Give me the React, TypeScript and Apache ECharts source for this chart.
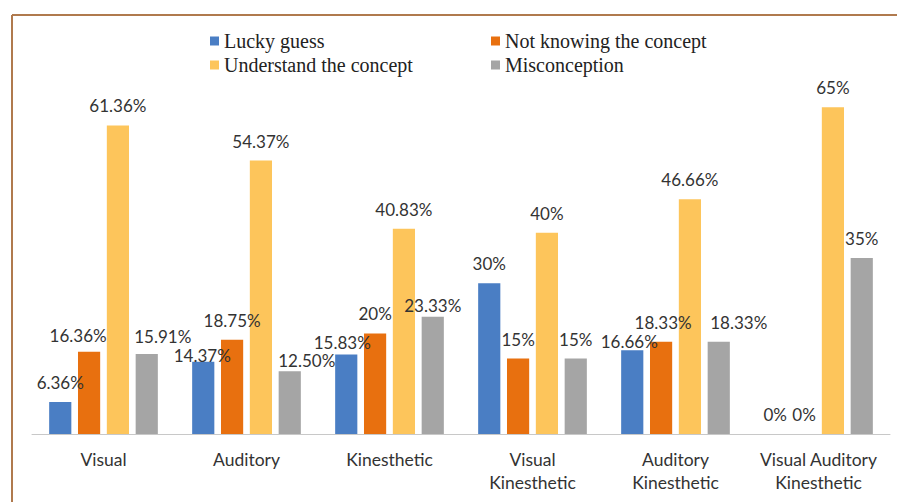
import React, { useEffect, useRef } from "react";
import * as echarts from "echarts";

const categories = ["Visual", "Auditory", "Kinesthetic", "Visual\nKinesthetic", "Auditory\nKinesthetic", "Visual Auditory\nKinesthetic"];
const seriesNames = ["Lucky guess", "Not knowing the concept", "Understand the concept", "Misconception"];
const luckyGuess = [6.36, 14.37, 15.83, 30, 16.66, 0];
const notKnowing = [16.36, 18.75, 20, 15, 18.33, 0];
const understand = [61.36, 54.37, 40.83, 40, 46.66, 65];
const misconception = [15.91, 12.5, 23.33, 15, 18.33, 35];
const luckyLabels = ["6.36%", "14.37%", "15.83%", "30%", "16.66%", "0%"];
const notKnowingLabels = ["16.36%", "18.75%", "20%", "15%", "18.33%", "0%"];
const understandLabels = ["61.36%", "54.37%", "40.83%", "40%", "46.66%", "65%"];
const misconceptionLabels = ["15.91%", "12.50%", "23.33%", "15%", "18.33%", "35%"];

const colors = ["#4a7ec4", "#e8700f", "#fdc55b", "#a5a5a5"];

export default function App() {
  const ref = useRef<HTMLDivElement>(null);
  useEffect(() => {
    if (!ref.current) return;
    const chart = echarts.init(ref.current, null, { renderer: "svg" });
    const values = [luckyGuess, notKnowing, understand, misconception];
    const labels = [luckyLabels, notKnowingLabels, understandLabels, misconceptionLabels];
    // label nudges (x, y) to mimic the reference's label placement
    const offsets: number[][][] = [
      [[0, 0], [-1, 13], [-4, 8], [0, 0], [-3, 11], [0, 0]],
      [[-11, 3], [0, 0], [0, 0], [0, 0], [2, 0], [0, 0]],
      [[0, 0], [0, 0], [0, 0], [0, 0], [0, 0], [0, 0]],
      [[16, 2], [17, 9], [0, 8], [0, 0], [20, 0], [0, 0]],
    ];
    const legendText = { fontFamily: "Liberation Serif", fontSize: 20, color: "#222" };
    chart.setOption({
      animation: false,
      backgroundColor: "#ffffff",
      color: colors,
      legend: [
        {
          left: 205,
          top: 26,
          orient: "vertical",
          itemWidth: 9,
          itemHeight: 9,
          itemGap: 4,
          icon: "rect",
          data: [seriesNames[0], seriesNames[2]],
          textStyle: legendText,
        },
        {
          left: 486,
          top: 26,
          orient: "vertical",
          itemWidth: 9,
          itemHeight: 9,
          itemGap: 4,
          icon: "rect",
          data: [seriesNames[1], seriesNames[3]],
          textStyle: legendText,
        },
      ],
      grid: { left: 32, right: 7, top: 82, bottom: 68, containLabel: false },
      xAxis: {
        type: "category",
        data: categories,
        axisLine: { lineStyle: { color: "#c8c8c8", width: 1 } },
        axisTick: { show: false },
        axisLabel: { fontFamily: "Lato", fontSize: 17.5, color: "#333", margin: 14, lineHeight: 23, interval: 0 },
      },
      yAxis: {
        type: "value",
        min: 0,
        max: 70,
        show: false,
        splitLine: { show: false },
      },
      series: seriesNames.map((name, si) => ({
        name,
        type: "bar",
        barGap: "30%",
        barCategoryGap: "24%",
        data: values[si].map((v, i) => ({
          value: v,
          label: { offset: offsets[si][i] },
        })),
        label: {
          show: true,
          position: "top",
          distance: 11,
          fontFamily: "Lato",
          fontSize: 17,
          color: "#333",
          formatter: (p: any) => labels[si][p.dataIndex],
        },
      })),
      graphic: [
        { type: "line", shape: { x1: 12, y1: 15, x2: 897, y2: 15 }, style: { stroke: "#b07a4e", lineWidth: 2 } },
        { type: "line", shape: { x1: 12, y1: 15, x2: 12, y2: 502 }, style: { stroke: "#b07a4e", lineWidth: 2 } },
      ],
    });
    return () => chart.dispose();
  }, []);
  return <div ref={ref} style={{ position: "fixed", left: 0, top: 0, width: 897, height: 502 }} />;
}
